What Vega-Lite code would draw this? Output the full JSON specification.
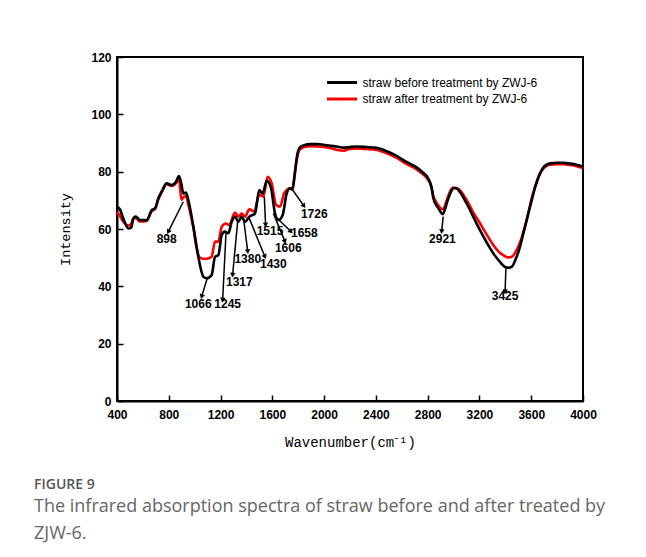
{
  "$schema": "https://vega.github.io/schema/vega-lite/v6.json",
  "width": 466,
  "height": 344,
  "autosize": {"type": "none"},
  "padding": {"left": 117, "top": 57, "right": 63, "bottom": 156},
  "background": "white",
  "config": {
    "view": {"stroke": "black", "strokeWidth": 2},
    "axis": {
      "domainColor": "black", "domainWidth": 2, "tickColor": "black", "tickWidth": 1.5,
      "labelFont": "Liberation Sans", "labelFontWeight": "bold", "labelFontSize": 12, "labelColor": "black",
      "titleFont": "Liberation Mono", "titleFontWeight": "normal", "titleFontSize": 13.5, "titleColor": "black",
      "grid": false, "labelFlush": false, "labelOverlap": false
    }
  },
  "title": {
    "text": "FIGURE 9",
    "subtitle": ["The infrared absorption spectra of straw before and after treated by", "ZJW-6."],
    "orient": "bottom", "anchor": "start", "frame": "group", "dx": -83, "offset": 29,
    "font": "Open Sans", "fontSize": 14, "fontWeight": 600, "color": "#555555",
    "subtitleFont": "Open Sans", "subtitleFontSize": 18, "subtitleColor": "#666666",
    "subtitleLineHeight": 27, "subtitlePadding": 6
  },
  "datasets": {
    "spectra": [
      {"s":"before","w":400,"I":67.8},{"s":"before","w":423,"I":66.8},{"s":"before","w":450,"I":63.5},{"s":"before","w":488,"I":60.2},{"s":"before","w":510,"I":60.5},{"s":"before","w":526,"I":63.7},{"s":"before","w":545,"I":64.3},{"s":"before","w":578,"I":63.1},{"s":"before","w":629,"I":63.1},{"s":"before","w":668,"I":66.6},{"s":"before","w":694,"I":67.2},{"s":"before","w":719,"I":70.7},{"s":"before","w":750,"I":73.5},{"s":"before","w":783,"I":75.9},{"s":"before","w":822,"I":75.3},{"s":"before","w":856,"I":76.5},{"s":"before","w":879,"I":78.5},{"s":"before","w":898,"I":75.5},{"s":"before","w":912,"I":72.4},{"s":"before","w":933,"I":72.7},{"s":"before","w":951,"I":70.1},{"s":"before","w":990,"I":60.8},{"s":"before","w":1028,"I":50.3},{"s":"before","w":1067,"I":43.4},{"s":"before","w":1093,"I":42.8},{"s":"before","w":1131,"I":43.9},{"s":"before","w":1157,"I":50.3},{"s":"before","w":1183,"I":50.9},{"s":"before","w":1209,"I":57.9},{"s":"before","w":1234,"I":59.1},{"s":"before","w":1260,"I":58.5},{"s":"before","w":1286,"I":62.5},{"s":"before","w":1312,"I":64.3},{"s":"before","w":1337,"I":62.5},{"s":"before","w":1363,"I":64.3},{"s":"before","w":1389,"I":62.5},{"s":"before","w":1422,"I":64.3},{"s":"before","w":1466,"I":65.4},{"s":"before","w":1499,"I":73.6},{"s":"before","w":1525,"I":72.4},{"s":"before","w":1557,"I":76.8},{"s":"before","w":1588,"I":74.7},{"s":"before","w":1621,"I":65.4},{"s":"before","w":1646,"I":63.1},{"s":"before","w":1680,"I":64.9},{"s":"before","w":1711,"I":72.4},{"s":"before","w":1737,"I":74.2},{"s":"before","w":1755,"I":73.8},{"s":"before","w":1775,"I":80},{"s":"before","w":1790,"I":85.2},{"s":"before","w":1814,"I":88.5},{"s":"before","w":1850,"I":89.3},{"s":"before","w":1891,"I":89.6},{"s":"before","w":1950,"I":89.6},{"s":"before","w":1994,"I":89.4},{"s":"before","w":2050,"I":89.0},{"s":"before","w":2097,"I":88.8},{"s":"before","w":2145,"I":88.4},{"s":"before","w":2187,"I":88.5},{"s":"before","w":2250,"I":88.8},{"s":"before","w":2329,"I":88.6},{"s":"before","w":2406,"I":88.3},{"s":"before","w":2480,"I":87.2},{"s":"before","w":2560,"I":85.5},{"s":"before","w":2640,"I":83.3},{"s":"before","w":2715,"I":81.5},{"s":"before","w":2760,"I":79.8},{"s":"before","w":2806,"I":77.5},{"s":"before","w":2830,"I":74.5},{"s":"before","w":2844,"I":70.7},{"s":"before","w":2865,"I":68.5},{"s":"before","w":2883,"I":67.2},{"s":"before","w":2916,"I":65.2},{"s":"before","w":2935,"I":67.0},{"s":"before","w":2947,"I":68.9},{"s":"before","w":2975,"I":72.5},{"s":"before","w":2998,"I":74.2},{"s":"before","w":3020,"I":74.2},{"s":"before","w":3037,"I":73.6},{"s":"before","w":3101,"I":68.9},{"s":"before","w":3150,"I":64.5},{"s":"before","w":3204,"I":59.6},{"s":"before","w":3260,"I":55.0},{"s":"before","w":3307,"I":51.5},{"s":"before","w":3350,"I":49.0},{"s":"before","w":3398,"I":46.8},{"s":"before","w":3425,"I":46.5},{"s":"before","w":3449,"I":46.8},{"s":"before","w":3480,"I":49.5},{"s":"before","w":3513,"I":53.8},{"s":"before","w":3550,"I":60.5},{"s":"before","w":3591,"I":67.8},{"s":"before","w":3630,"I":74.5},{"s":"before","w":3668,"I":79.4},{"s":"before","w":3700,"I":81.8},{"s":"before","w":3745,"I":82.9},{"s":"before","w":3800,"I":83.1},{"s":"before","w":3848,"I":83.1},{"s":"before","w":3900,"I":82.8},{"s":"before","w":3950,"I":82.4},{"s":"before","w":4000,"I":81.8},
      {"s":"after","w":400,"I":66.0},{"s":"after","w":423,"I":64.5},{"s":"after","w":450,"I":62.5},{"s":"after","w":488,"I":61.2},{"s":"after","w":510,"I":61.8},{"s":"after","w":526,"I":63.5},{"s":"after","w":545,"I":63.8},{"s":"after","w":578,"I":62.6},{"s":"after","w":629,"I":62.8},{"s":"after","w":668,"I":66.2},{"s":"after","w":694,"I":67.0},{"s":"after","w":719,"I":70.3},{"s":"after","w":750,"I":73.2},{"s":"after","w":783,"I":75.6},{"s":"after","w":822,"I":75.0},{"s":"after","w":856,"I":76.0},{"s":"after","w":879,"I":77.3},{"s":"after","w":898,"I":70.2},{"s":"after","w":912,"I":71.0},{"s":"after","w":933,"I":71.5},{"s":"after","w":951,"I":68.5},{"s":"after","w":990,"I":60.5},{"s":"after","w":1013,"I":54.0},{"s":"after","w":1040,"I":50.0},{"s":"after","w":1070,"I":49.6},{"s":"after","w":1093,"I":49.6},{"s":"after","w":1131,"I":50.3},{"s":"after","w":1157,"I":55.6},{"s":"after","w":1183,"I":55.6},{"s":"after","w":1209,"I":60.8},{"s":"after","w":1242,"I":61.9},{"s":"after","w":1265,"I":61.4},{"s":"after","w":1312,"I":65.7},{"s":"after","w":1337,"I":64.3},{"s":"after","w":1363,"I":65.4},{"s":"after","w":1389,"I":64.3},{"s":"after","w":1422,"I":66.9},{"s":"after","w":1460,"I":66.1},{"s":"after","w":1499,"I":71.9},{"s":"after","w":1530,"I":71.3},{"s":"after","w":1564,"I":78.2},{"s":"after","w":1595,"I":75.9},{"s":"after","w":1629,"I":68.4},{"s":"after","w":1660,"I":67.8},{"s":"after","w":1691,"I":72.4},{"s":"after","w":1737,"I":74.2},{"s":"after","w":1755,"I":73.8},{"s":"after","w":1775,"I":79.5},{"s":"after","w":1790,"I":84.5},{"s":"after","w":1814,"I":87.8},{"s":"after","w":1850,"I":88.6},{"s":"after","w":1891,"I":88.9},{"s":"after","w":1950,"I":88.8},{"s":"after","w":1994,"I":88.6},{"s":"after","w":2050,"I":88.2},{"s":"after","w":2100,"I":87.6},{"s":"after","w":2145,"I":87.3},{"s":"after","w":2187,"I":87.8},{"s":"after","w":2250,"I":88.1},{"s":"after","w":2329,"I":87.9},{"s":"after","w":2406,"I":87.6},{"s":"after","w":2480,"I":86.5},{"s":"after","w":2560,"I":84.8},{"s":"after","w":2640,"I":82.6},{"s":"after","w":2715,"I":80.8},{"s":"after","w":2760,"I":79.2},{"s":"after","w":2806,"I":77.0},{"s":"after","w":2830,"I":74.5},{"s":"after","w":2844,"I":71.5},{"s":"after","w":2865,"I":69.5},{"s":"after","w":2883,"I":68.2},{"s":"after","w":2916,"I":66.9},{"s":"after","w":2935,"I":68.3},{"s":"after","w":2947,"I":70.0},{"s":"after","w":2975,"I":73.3},{"s":"after","w":2998,"I":74.5},{"s":"after","w":3020,"I":74.3},{"s":"after","w":3037,"I":74.0},{"s":"after","w":3101,"I":70.1},{"s":"after","w":3150,"I":66.0},{"s":"after","w":3204,"I":62.0},{"s":"after","w":3260,"I":57.8},{"s":"after","w":3307,"I":54.4},{"s":"after","w":3350,"I":52.0},{"s":"after","w":3398,"I":50.5},{"s":"after","w":3422,"I":50.1},{"s":"after","w":3449,"I":50.3},{"s":"after","w":3488,"I":52.7},{"s":"after","w":3530,"I":57.5},{"s":"after","w":3565,"I":63.1},{"s":"after","w":3600,"I":70.0},{"s":"after","w":3642,"I":76.5},{"s":"after","w":3680,"I":80.3},{"s":"after","w":3720,"I":82.0},{"s":"after","w":3745,"I":82.4},{"s":"after","w":3800,"I":82.6},{"s":"after","w":3848,"I":82.6},{"s":"after","w":3900,"I":82.3},{"s":"after","w":3950,"I":81.9},{"s":"after","w":4000,"I":81.3}
    ],
    "peaks": [
      {"label":"898","w":912,"I":69.5,"w2":796,"I2":59.0,"lw":784,"lI":56.5},
      {"label":"1066","w":1097,"I":42.8,"w2":1054,"I2":36.4,"lw":1028,"lI":33.8},
      {"label":"1245","w":1242,"I":58.5,"w2":1216,"I2":35.2,"lw":1255,"lI":33.8},
      {"label":"1317","w":1332,"I":62.5,"w2":1293,"I2":43.9,"lw":1345,"lI":41.6},
      {"label":"1380","w":1381,"I":62.5,"w2":1410,"I2":52.1,"lw":1410,"lI":49.5},
      {"label":"1430","w":1422,"I":63.7,"w2":1543,"I2":50.3,"lw":1608,"lI":47.8},
      {"label":"1515","w":1538,"I":71.3,"w2":1548,"I2":61.4,"lw":1582,"lI":59.3},
      {"label":"1606","w":1608,"I":65.4,"w2":1698,"I2":55.6,"lw":1723,"lI":53.5},
      {"label":"1658","w":1629,"I":64.1,"w2":1744,"I2":59.1,"lw":1847,"lI":58.7},
      {"label":"1726","w":1757,"I":73.6,"w2":1845,"I2":68.0,"lw":1924,"lI":65.4},
      {"label":"2921","w":2920,"I":64.3,"w2":2908,"I2":59.1,"lw":2914,"lI":56.5},
      {"label":"3425","w":3405,"I":46.8,"w2":3398,"I2":38.1,"lw":3398,"lI":36.7}
    ]
  },
  "layer": [
    {
      "data": {"name": "spectra"},
      "transform": [{"filter": "datum.s === 'after'"}],
      "mark": {"type": "line", "strokeWidth": 2.6, "interpolate": "monotone"},
      "encoding": {
        "x": {"field": "w", "type": "quantitative", "title": "Wavenumber(cm⁻¹)",
          "scale": {"domain": [400, 4000], "nice": false, "zero": false},
          "axis": {"values": [400,600,800,1000,1200,1400,1600,1800,2000,2200,2400,2600,2800,3000,3200,3400,3600,3800,4000],
            "format": "d", "labelExpr": "datum.value % 400 === 0 ? datum.label : ''",
            "tickSize": {"condition": {"test": "datum.value % 400 === 0", "value": -6}, "value": -4},
            "labelPadding": 14, "titlePadding": 15, "titleFontSize": 14}},
        "y": {"field": "I", "type": "quantitative", "title": "Intensity",
          "scale": {"domain": [0, 120], "nice": false},
          "axis": {"values": [0,10,20,30,40,50,60,70,80,90,100,110,120],
            "format": "d", "labelExpr": "datum.value % 20 === 0 ? datum.label : ''",
            "tickSize": {"condition": {"test": "datum.value % 20 === 0", "value": -6}, "value": -4},
            "labelPadding": 12, "titlePadding": 18}},
        "color": {"field": "s", "type": "nominal", "title": null,
          "scale": {"domain": ["before", "after"], "range": ["#000000", "#ff0000"]},
          "legend": {"orient": "none", "legendX": 203.5, "legendY": 19, "padding": 0,
            "symbolType": "M-3,0H3", "symbolSize": 100, "symbolStrokeWidth": 3, "symbolOffset": 15,
            "labelOffset": 14, "rowPadding": 3.5,
            "labelFont": "Liberation Sans", "labelFontSize": 12, "labelColor": "black",
            "labelExpr": "datum.label === 'before' ? 'straw before treatment by ZWJ-6' : 'straw after treatment by ZWJ-6'",
            "labelLimit": 400}}
      }
    },
    {
      "data": {"name": "spectra"},
      "transform": [{"filter": "datum.s === 'before'"}],
      "mark": {"type": "line", "strokeWidth": 2.6, "interpolate": "monotone"},
      "encoding": {
        "x": {"field": "w", "type": "quantitative", "title": "Wavenumber(cm⁻¹)"},
        "y": {"field": "I", "type": "quantitative", "title": "Intensity"},
        "color": {"field": "s", "type": "nominal", "title": null}
      }
    },
    {
      "data": {"name": "peaks"},
      "mark": {"type": "rule", "color": "black", "strokeWidth": 1.5},
      "encoding": {
        "x": {"field": "w", "type": "quantitative", "title": "Wavenumber(cm⁻¹)"},
        "y": {"field": "I", "type": "quantitative", "title": "Intensity"},
        "x2": {"field": "w2"},
        "y2": {"field": "I2"}
      }
    },
    {
      "data": {"name": "peaks"},
      "transform": [{"calculate": "(atan2((datum.w2 - datum.w) * 466 / 3600, (datum.I2 - datum.I) * 344 / 120) * 180 / PI + 360) % 360", "as": "ang"}],
      "mark": {"type": "point", "shape": "triangle-up", "filled": true, "color": "black", "size": 30, "opacity": 1},
      "encoding": {
        "x": {"field": "w2", "type": "quantitative", "title": "Wavenumber(cm⁻¹)"},
        "y": {"field": "I2", "type": "quantitative", "title": "Intensity"},
        "angle": {"field": "ang", "type": "quantitative", "scale": null}
      }
    },
    {
      "data": {"name": "peaks"},
      "mark": {"type": "text", "font": "Liberation Sans", "fontWeight": "bold", "fontSize": 12, "color": "black", "baseline": "middle", "align": "center"},
      "encoding": {
        "x": {"field": "lw", "type": "quantitative", "title": "Wavenumber(cm⁻¹)"},
        "y": {"field": "lI", "type": "quantitative", "title": "Intensity"},
        "text": {"field": "label"}
      }
    }
  ]
}
